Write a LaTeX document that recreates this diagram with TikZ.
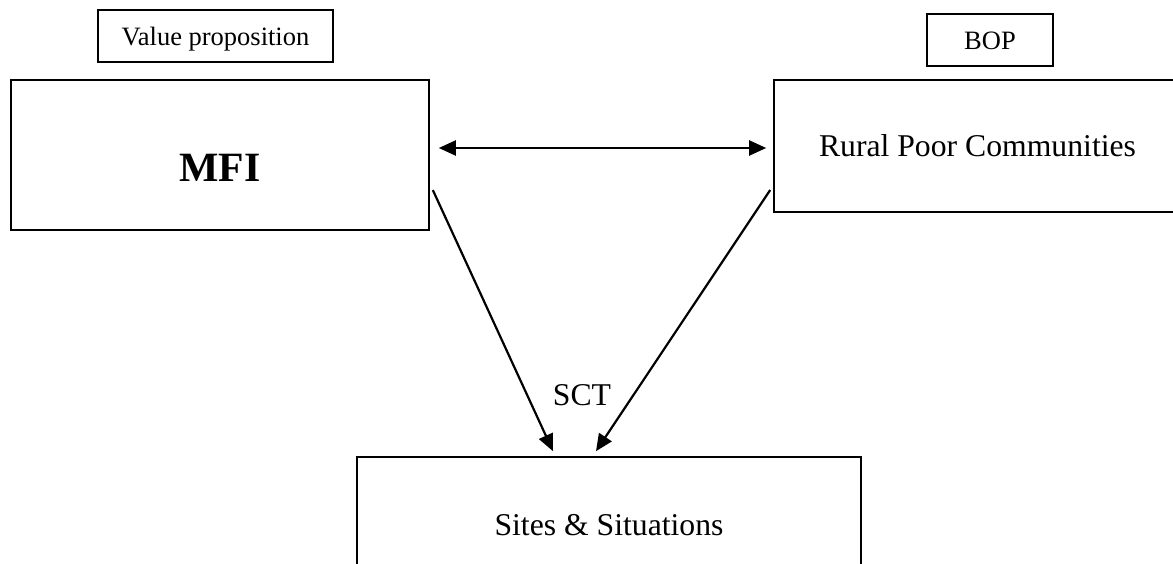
\documentclass[tikz,border=0pt]{standalone}
\usepackage{fontspec}
\setmainfont{Liberation Serif}
\usetikzlibrary{arrows.meta}
\begin{document}
\begin{tikzpicture}[x=1pt,y=-1pt,
  box/.style={draw, line width=1.6pt, inner sep=0pt, align=center, text depth=0pt},
  conn/.style={line width=2.2pt, -{Triangle[length=17pt,width=15pt]}},
  biconn/.style={line width=2.2pt, {Triangle[length=17pt,width=15pt]}-{Triangle[length=17pt,width=15pt]}},
  small/.style={font=\fontsize{26.5}{30}\selectfont},
  mid/.style={font=\fontsize{31.7}{36}\selectfont},
  big/.style={font=\bfseries\fontsize{41.7}{48}\selectfont}]
\useasboundingbox (0,0) rectangle (1173,564);
\node[box, small, minimum width=235pt, minimum height=52pt, text height=19.4pt] (vp) at (215.5,36) {Value proposition};
\node[box, small, minimum width=126pt, minimum height=52pt, text height=18.6pt] (bop) at (990,40) {BOP};
\node[box, big, minimum width=418pt, minimum height=150pt, text height=54pt] (mfi) at (220,155) {MFI};
\node[box, mid, minimum width=407pt, minimum height=132pt, text height=22pt] (rural) at (977.5,146) {Rural Poor Communities};
\node[box, mid, minimum width=504pt, minimum height=138pt, text height=18pt] (sites) at (609,526) {Sites \& Situations};
\node[mid, anchor=base, inner sep=0pt] (sct) at (582,405) {SCT};
\draw[biconn] ([shift={(9,-7)}]mfi.east) -- ([shift={(-7,2)}]rural.west);
\draw[conn] ([shift={(3,35)}]mfi.east) -- ([shift={(-56,-5)}]sites.north);
\draw[conn] ([shift={(-3,44)}]rural.west) -- ([shift={(-13,-5)}]sites.north);
\end{tikzpicture}
\end{document}
